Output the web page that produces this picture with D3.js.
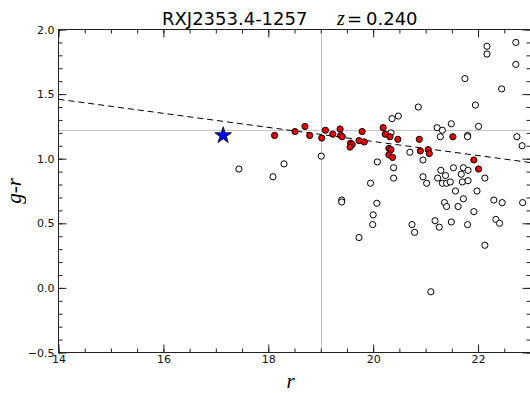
<!DOCTYPE html>
<html>
<head>
<meta charset="utf-8">
<script src="https://cdn.jsdelivr.net/npm/d3@7/dist/d3.min.js"></script>
<style>
  html, body { margin: 0; padding: 0; background: #fff; }
  svg { display: block; }
  .tick text { font-family: "DejaVu Sans", sans-serif; font-size: 11px; fill: #111; }
</style>
</head>
<body>
<svg id="chart" width="530" height="393"></svg>
<script>
// Colour-magnitude diagram: r magnitude vs g-r colour
const clusterName = "RXJ2353.4-1257";
const redshiftLabel = "0.240";

// BCG (star marker)
const bcgR = [17.14];
const bcgGR = [1.18];

// Red-sequence members (red filled)
const redR  = [18.12, 18.51, 18.70, 18.79, 19.02, 19.09, 19.23, 19.37, 19.38, 19.41,
               19.57, 19.60, 19.56, 19.79, 19.73, 19.83, 20.19, 20.23, 20.32, 20.47,
               20.30, 20.34, 20.30, 20.37, 20.88, 20.90, 21.05, 21.07, 21.52, 21.92, 22.01];
const redGR = [1.18, 1.21, 1.25, 1.18, 1.16, 1.22, 1.19, 1.23, 1.18, 1.17,
               1.12, 1.11, 1.09, 1.21, 1.14, 1.13, 1.24, 1.19, 1.17, 1.15,
               1.08, 1.07, 1.03, 1.01, 1.15, 1.06, 1.07, 1.04, 1.17, 0.99, 0.92];

// Other galaxies (open circles)
const otherR  = [17.44, 18.09, 18.30, 19.01, 19.40, 19.40, 20.34, 20.08, 19.95, 20.39,
                 20.39, 20.36, 20.48, 20.86, 21.95, 20.70, 20.95, 20.95, 21.02, 21.22,
                 21.32, 21.49, 21.28, 21.80, 21.80, 22.01, 21.29, 21.23, 21.38, 21.32,
                 21.40, 21.47, 21.53, 21.72, 21.81, 21.68, 21.70, 21.81, 22.13, 21.57,
                 21.72, 21.98, 21.36, 21.40, 21.62, 21.92, 22.30, 22.46, 22.85, 22.74,
                 22.84, 20.07, 20.00, 19.99, 19.73, 20.74, 20.79, 21.18, 21.26, 21.49,
                 21.80, 22.34, 22.41, 22.13, 21.10, 22.17, 22.17, 22.72, 22.72, 21.75,
                 22.45];
const otherGR = [0.92, 0.86, 0.96, 1.02, 0.68, 0.665, 1.20, 0.975, 0.81, 0.93,
                 0.85, 1.31, 1.33, 1.40, 1.415, 1.05, 0.99, 0.86, 0.81, 1.24,
                 1.22, 1.27, 1.17, 1.18, 1.17, 1.25, 0.91, 0.85, 0.87, 0.81,
                 0.81, 0.82, 0.93, 0.93, 0.91, 0.88, 0.82, 0.83, 0.85, 0.75,
                 0.69, 0.75, 0.66, 0.63, 0.63, 0.59, 0.68, 0.66, 0.66, 1.17,
                 1.10, 0.655, 0.565, 0.49, 0.39, 0.49, 0.43, 0.52, 0.47, 0.51,
                 0.49, 0.53, 0.50, 0.33, -0.03, 1.87, 1.81, 1.90, 1.73, 1.62,
                 1.54];

// Red-sequence fit (dashed) and reference lines
const fitR  = [14, 23];
const fitGR = [1.46, 0.97];
const bcgColourLine = 1.22;
const magLimitLine = 19;

// Axis ticks
const xMajor = [14, 16, 18, 20, 22];
const xMinor = d3.range(14, 23.01, 0.5);
const yMajor = [-0.5, 0.0, 0.5, 1.0, 1.5, 2.0];
const yMinor = d3.range(-0.5, 2.001, 0.1).map(v => +v.toFixed(2));
const yTickLabels = ["\u22120.5", "0.0", "0.5", "1.0", "1.5", "2.0"];

const svg = d3.select("#chart");
const x = d3.scaleLinear().domain([14, 23]).range([58.5, 530.5]);
const y = d3.scaleLinear().domain([-0.5, 2.0]).range([352.5, 29.5]);

const [x0, x1] = x.range();
const [yb, yt] = y.range();

svg.append("defs").append("clipPath").attr("id", "plot-clip")
  .append("rect").attr("x", x0).attr("y", yt).attr("width", x1 - x0).attr("height", yb - yt);

const plot = svg.append("g").attr("clip-path", "url(#plot-clip)");

// Reference lines
plot.append("line")
  .attr("x1", x0).attr("x2", x1)
  .attr("y1", Math.round(y(bcgColourLine)) + 0.5).attr("y2", Math.round(y(bcgColourLine)) + 0.5)
  .attr("stroke", "#c4c4c4").attr("stroke-width", 1);
plot.append("line")
  .attr("x1", Math.round(x(magLimitLine)) + 0.5).attr("x2", Math.round(x(magLimitLine)) + 0.5)
  .attr("y1", yt).attr("y2", yb)
  .attr("stroke", "#c4c4c4").attr("stroke-width", 1);

// Red-sequence fit
const fitLine = d3.line().x(d => x(d[0])).y(d => y(d[1]));
plot.append("path")
  .attr("d", fitLine(fitR.map((r, i) => [r, fitGR[i]])))
  .attr("fill", "none").attr("stroke", "#000").attr("stroke-width", 1)
  .attr("stroke-dasharray", "6,4");

// Other galaxies
plot.append("g").selectAll("circle")
  .data(otherR.map((r, i) => [r, otherGR[i]]))
  .join("circle")
  .attr("cx", d => x(d[0])).attr("cy", d => y(d[1])).attr("r", 3.1)
  .attr("fill", "#fff").attr("stroke", "#000").attr("stroke-width", 1);

// Red-sequence members
plot.append("g").selectAll("circle")
  .data(redR.map((r, i) => [r, redGR[i]]))
  .join("circle")
  .attr("cx", d => x(d[0])).attr("cy", d => y(d[1])).attr("r", 3.1)
  .attr("fill", "#ee0000").attr("stroke", "#000").attr("stroke-width", 1);

// BCG
plot.append("g").selectAll("path")
  .data(bcgR.map((r, i) => [r, bcgGR[i]]))
  .join("path")
  .attr("d", d3.symbol(d3.symbolStar, 85))
  .attr("transform", d => `translate(${x(d[0])},${y(d[1])})`)
  .attr("fill", "#0000ff").attr("stroke", "#000").attr("stroke-width", 0.8);

// Axes: ticks point inward on all four sides
const axisColor = "#222";
function styleAxis(g) {
  g.select(".domain").remove();
  g.selectAll(".tick line").attr("stroke", axisColor);
}
svg.append("g").attr("transform", `translate(0,${yb})`)
  .call(d3.axisBottom(x).tickValues(xMinor).tickSize(-4).tickFormat("")).call(styleAxis);
svg.append("g").attr("transform", `translate(0,${yb})`)
  .call(d3.axisBottom(x).tickValues(xMajor).tickSize(-8).tickPadding(3).tickFormat(d3.format("d"))).call(styleAxis);
svg.append("g").attr("transform", `translate(0,${yt})`)
  .call(d3.axisTop(x).tickValues(xMinor).tickSize(-4).tickFormat("")).call(styleAxis);
svg.append("g").attr("transform", `translate(0,${yt})`)
  .call(d3.axisTop(x).tickValues(xMajor).tickSize(-8).tickFormat("")).call(styleAxis);

svg.append("g").attr("transform", `translate(${x0},0)`)
  .call(d3.axisLeft(y).tickValues(yMinor).tickSize(-4).tickFormat("")).call(styleAxis);
svg.append("g").attr("transform", `translate(${x0},0)`)
  .call(d3.axisLeft(y).tickValues(yMajor).tickSize(-8).tickPadding(4)
    .tickFormat((d, i) => yTickLabels[i])).call(styleAxis);
svg.append("g").attr("transform", `translate(${x1},0)`)
  .call(d3.axisRight(y).tickValues(yMinor).tickSize(-4).tickFormat("")).call(styleAxis);
svg.append("g").attr("transform", `translate(${x1},0)`)
  .call(d3.axisRight(y).tickValues(yMajor).tickSize(-8).tickFormat("")).call(styleAxis);

// Frame
svg.append("rect")
  .attr("x", x0).attr("y", yt).attr("width", x1 - x0).attr("height", yb - yt)
  .attr("fill", "none").attr("stroke", axisColor).attr("stroke-width", 1);

// Title
const title = svg.append("text").attr("y", 25)
  .attr("font-family", "DejaVu Sans, sans-serif").attr("font-size", 18).attr("fill", "#000");
title.append("tspan").attr("x", 162).text(clusterName);
title.append("tspan").attr("x", 337).attr("font-family", "Liberation Serif, serif")
  .attr("font-style", "italic").attr("font-size", 20).text("z");
title.append("tspan").attr("x", 347).text("=");
title.append("tspan").attr("x", 366).text(redshiftLabel);

// Axis labels
svg.append("text")
  .attr("x", (x0 + x1) / 2 - 4).attr("y", 388)
  .attr("text-anchor", "middle")
  .attr("font-family", "Liberation Serif, serif").attr("font-style", "italic")
  .attr("font-size", 21).text("r");
svg.append("text")
  .attr("transform", `translate(21,${(yt + yb) / 2}) rotate(-90)`)
  .attr("text-anchor", "middle")
  .attr("font-family", "Liberation Serif, serif").attr("font-style", "italic")
  .attr("font-size", 21).text("g-r");
</script>
</body>
</html>
